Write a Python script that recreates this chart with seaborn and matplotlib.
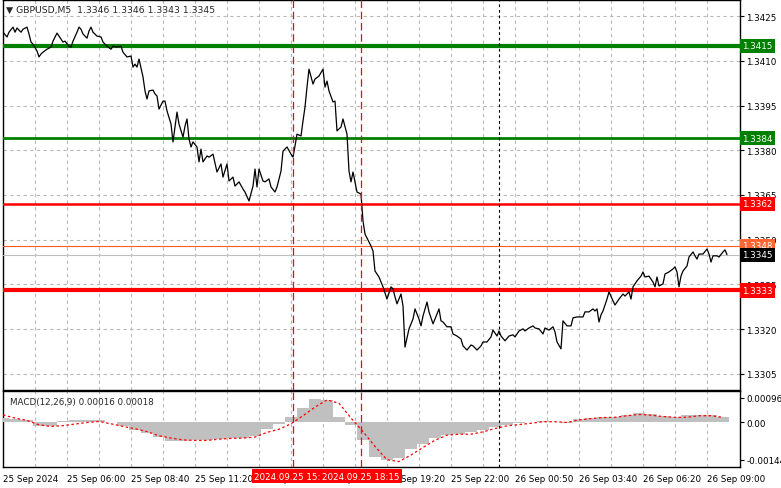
import seaborn as sns
import matplotlib.pyplot as plt
import matplotlib.transforms as mtransforms
import pandas as pd

# price (close) readings, x in M5 bars from the chart start
bars = [0, 2, 3, 5, 6, 7, 9, 10, 12, 13, 14, 15, 17, 18, 19, 20, 22, 24, 25, 27,
        29, 30, 31, 33, 34, 35, 37, 38, 39, 40, 42, 43, 44, 45, 47, 49, 50, 52, 54, 55,
        57, 59, 60, 62, 64, 65, 66, 67, 68, 70, 71, 72, 73, 75, 76, 77, 78, 80, 81, 82,
        84, 85, 87, 88, 90, 91, 92, 93, 94, 95, 97, 98, 99,
        100, 102, 103, 105, 107, 109, 110, 112, 113, 115, 116, 118, 120, 121, 123, 125, 126, 127, 128, 130,
        131, 133, 134, 136, 137, 139, 140, 142, 144, 145, 146, 147, 149, 150, 151, 152, 153, 155, 156, 158,
        160, 161, 162, 163, 165, 166, 167, 169, 170, 172, 173, 174, 175, 177, 179, 180, 181, 184, 185, 186,
        188, 190, 192, 194, 195, 196, 197, 199, 200, 201, 203, 205, 206, 208, 209, 210, 212, 213, 215, 216,
        218, 219, 220, 222, 224, 225, 227, 229, 230, 232, 234, 235, 237, 239, 240, 242, 244, 245, 247, 248,
        249, 251, 253, 255, 256, 258, 260, 261, 263, 265, 266, 268, 270, 271, 273, 275, 276, 277, 279, 280,
        282, 284, 285, 287, 290, 291, 293, 295, 296, 297, 298, 299, 300, 302, 303, 305, 306, 308, 310, 311,
        313, 314, 315, 317, 319, 320, 321, 323, 325, 326, 327, 328, 330, 331, 333, 335, 336, 337, 338, 339,
        340, 342, 343, 345, 346, 347, 348, 350, 352, 353, 354, 355, 357, 358, 360, 361, 362]
close = [1.34196, 1.34180, 1.34196, 1.34213, 1.34196, 1.34210, 1.34196, 1.34206, 1.34213, 1.34190,
         1.34163, 1.34156, 1.34133, 1.34113, 1.34123, 1.34129, 1.34139, 1.34146, 1.34166, 1.34193,
         1.34173, 1.34163, 1.34166, 1.34149, 1.34146, 1.34166, 1.34196, 1.34213, 1.34206, 1.34190,
         1.34176, 1.34200, 1.34213, 1.34196, 1.34183, 1.34180, 1.34163, 1.34149, 1.34139, 1.34149,
         1.34146, 1.34149, 1.34129, 1.34113, 1.34116, 1.34079, 1.34089, 1.34079, 1.34106, 1.34046,
         1.33999, 1.33972, 1.33999, 1.34002, 1.33989, 1.33982, 1.33938, 1.33965, 1.33965, 1.33932,
         1.33888, 1.33828, 1.33928, 1.33888, 1.33844, 1.33881, 1.33905, 1.33838, 1.33811, 1.33828,
         1.33811, 1.33761, 1.33804,
         1.33761, 1.33781, 1.33777, 1.33787, 1.33727, 1.33754, 1.33710, 1.33754, 1.33697, 1.33710,
         1.33680, 1.33694, 1.33670, 1.33660, 1.33630, 1.33680, 1.33737, 1.33677, 1.33737, 1.33697,
         1.33694, 1.33704, 1.33677, 1.33660, 1.33677, 1.33730, 1.33797, 1.33811, 1.33787, 1.33777,
         1.33814, 1.33854, 1.33848, 1.33898, 1.33945, 1.34012, 1.34072, 1.34022, 1.34039, 1.34049,
         1.34072, 1.34012, 1.34032, 1.33999, 1.33962, 1.33965, 1.33865, 1.33878, 1.33905, 1.33854,
         1.33730, 1.33694, 1.33727, 1.33660, 1.33653, 1.33563, 1.33519, 1.33479, 1.33462, 1.33395,
         1.33375, 1.33342, 1.33301, 1.33342, 1.33335, 1.33308, 1.33285, 1.33318, 1.33278, 1.33140,
         1.33201, 1.33234, 1.33268, 1.33234, 1.33211, 1.33244, 1.33291, 1.33258, 1.33218, 1.33234,
         1.33268, 1.33228, 1.33224, 1.33208, 1.33208, 1.33184, 1.33177, 1.33167, 1.33144, 1.33130,
         1.33147, 1.33144, 1.33130, 1.33144, 1.33157, 1.33157, 1.33174, 1.33197, 1.33177, 1.33194,
         1.33177, 1.33161, 1.33177, 1.33181, 1.33174, 1.33194, 1.33201, 1.33194, 1.33204, 1.33211,
         1.33204, 1.33201, 1.33184, 1.33204, 1.33197, 1.33208, 1.33191, 1.33157, 1.33134, 1.33228,
         1.33211, 1.33211, 1.33238, 1.33241, 1.33241, 1.33258, 1.33258, 1.33268, 1.33261, 1.33268,
         1.33224, 1.33248, 1.33261, 1.33301, 1.33325, 1.33295, 1.33281, 1.33301, 1.33318, 1.33311,
         1.33325, 1.33301, 1.33342, 1.33362, 1.33378, 1.33392, 1.33375, 1.33378, 1.33358, 1.33342,
         1.33375, 1.33345, 1.33352, 1.33385, 1.33392, 1.33402, 1.33409, 1.33392, 1.33342, 1.33378,
         1.33395, 1.33412, 1.33442, 1.33459, 1.33446, 1.33435, 1.33452, 1.33452, 1.33469, 1.33452,
         1.33425, 1.33446, 1.33446, 1.33442, 1.33459, 1.33466, 1.33450]

# MACD(12,26,9) read every 6 bars
macd_bars = list(range(0, 361, 6))
macd_hist = [0.00017, 0.00013, 0.00008, -0.00015, -0.00013, 0.00004, 0.00008, 0.0001, 0.00008, 0.0,
             -0.00015, -0.00028, -0.00041, -0.00056, -0.0007, -0.0007, -0.00069, -0.00067, -0.00064, -0.0006,
             -0.0006, -0.00051, -0.00026, -0.00005, 0.0002, 0.00055, 0.00091, 0.00087, 0.0002, -0.00009,
             -0.00067, -0.00131, -0.00144, -0.00138,
             -0.00102, -0.00083, -0.00061, -0.00049, -0.00045, -0.00038, -0.00028, -0.00018, -0.0001, -0.00003,
             0.00003, 0.00004, 0.0, -0.00003, 0.00013, 0.00018, 0.0002, 0.00023, 0.00028, 0.00036,
             0.00033, 0.00026, 0.00023, 0.00028, 0.00029, 0.00028, 0.00023]
macd_signal = [0.00029, 0.00017, 0.00008, -0.00009, -0.00015, -0.00012, -0.00006, 0.0, 0.00004, -0.00005,
               -0.00015, -0.00024, -0.00035, -0.00051, -0.0006, -0.00067, -0.00069, -0.00069, -0.00064, -0.00061,
               -0.0006, -0.00056, -0.00038, -0.00026, -0.00005, 0.00026, 0.00059, 0.00087, 0.00074, 0.00017,
               -0.00035, -0.00092, -0.00143, -0.0015,
               -0.00125, -0.00096, -0.00068, -0.00049, -0.00045, -0.00045, -0.00036, -0.00023, -0.00013, -0.00008,
               -0.00003, 0.00003, 0.00003, 0.0, 0.0001, 0.00015, 0.00019, 0.0002, 0.00026, 0.00031,
               0.00028, 0.00023, 0.0002, 0.0002, 0.00026, 0.00026, 0.0002]

# horizontal levels
green_levels = [1.3415, 1.3384]
red_levels = [1.3362, 1.3333]
ask_price = 1.3348
bid_price = 1.3345

# time axis
time_tick_bars = [0, 32, 64, 96, 128, 160, 192, 224, 256, 288, 320, 352]
time_tick_labels = ['25 Sep 2024', '25 Sep 06:00', '25 Sep 08:40', '25 Sep 11:20', '25 Sep 14:00',
                    '25 Sep 16:40', '25 Sep 19:20', '25 Sep 22:00', '26 Sep 00:50', '26 Sep 03:40',
                    '26 Sep 06:20', '26 Sep 09:00']
marker_bars = [145, 179]
marker_labels = ['2024.09.25 15:25', '2024.09.25 18:15']
day_sep_bar = 248
price_ticks = [1.3305, 1.3320, 1.3335, 1.3350, 1.3365, 1.3380, 1.3395, 1.3410, 1.3425]

sns.set_style("white")
plt.rcParams['font.family'] = ['DejaVu Sans']
FS = 6.3

df = pd.DataFrame({'bar': bars, 'close': close})
dm = pd.DataFrame({'bar': macd_bars, 'hist': macd_hist, 'signal': macd_signal})

W, H = 781, 489
fig = plt.figure(figsize=(W / 100, H / 100), dpi=100)
ax = fig.add_axes([3 / W, 1 - 391 / H, 737 / W, 390 / H])
ax2 = fig.add_axes([3 / W, 1 - 468 / H, 737 / W, 76 / H])

grid_kw = dict(color='#b8b8b8', linestyle=(0, (3, 3)), linewidth=0.8)

# ---- main price panel
sns.lineplot(data=df, x='bar', y='close', color='black', linewidth=0.9, ax=ax, zorder=5)
for lv in green_levels:
    ax.axhline(lv, color='#008000', linewidth=3.0 if lv == 1.3415 else 2.0, zorder=4)
for lv in red_levels:
    ax.axhline(lv, color='#ff0000', linewidth=1.8 if lv == 1.3362 else 3.0, zorder=4)
ax.axhline(ask_price, color='#ff5a1f', linewidth=0.8, zorder=4)
ax.axhline(bid_price, color='#c0c0c0', linewidth=0.8, zorder=4)

ax.set_ylim(1.32996, 1.34304)
ax.set_yticks(price_ticks)
ax.set_yticklabels(['%.4f' % p for p in price_ticks])

# ---- MACD panel
sns.barplot(data=dm, x='bar', y='hist', native_scale=True, width=1.0, color='#c0c0c0',
            linewidth=0, errorbar=None, ax=ax2, saturation=1, zorder=3)
sns.lineplot(data=dm, x='bar', y='signal', color='#ff0000', linewidth=0.9,
             linestyle=(0, (2, 2)), ax=ax2, zorder=4)
ax2.set_ylim(-0.00171, 0.00121)
ax2.set_yticks([-0.00144, 0.0, 0.00096])
ax2.set_yticklabels(['-0.00144', '0.00', '0.00096'])

grid_bars = list(range(0, 353, 16))
for a in (ax, ax2):
    a.set_xlim(0, 368.5)
    a.set_xlabel('')
    a.set_ylabel('')
    for s in a.spines.values():
        s.set_color('black')
        s.set_linewidth(1.0)
    a.yaxis.tick_right()
    a.tick_params(axis='y', direction='out', length=3, pad=1.5, labelsize=FS, colors='black')
    for gb in grid_bars[1:]:
        a.axvline(gb, zorder=1, **grid_kw)
    for mb in marker_bars:
        a.axvline(mb, color='#ff0000', linestyle=(0, (6, 3)), linewidth=0.9, zorder=6)
    a.axvline(day_sep_bar, color='black', linestyle=(0, (2.5, 2.5)), linewidth=0.8, zorder=6)

for p in price_ticks:
    ax.axhline(p, zorder=1, **grid_kw)

ax.set_xticks([])
ax2.set_xticks(time_tick_bars)
ax2.set_xticklabels(time_tick_labels)
ax2.tick_params(axis='x', direction='out', length=3, pad=2, labelsize=FS, colors='black')
for lbl in ax2.get_xticklabels():
    lbl.set_ha('left')

# level boxes at the right edge
ytr = mtransforms.blended_transform_factory(ax.transAxes, ax.transData)
boxes = [(1.3415, '#008000'), (1.3384, '#008000'), (1.3362, '#ff0000'), (1.3333, '#ff0000'),
         (ask_price, '#ff6633'), (bid_price, '#000000')]
for lv, col in boxes:
    ax.text(1.003, lv, '%.4f' % lv, transform=ytr, ha='left', va='center', fontsize=FS,
            color='white', zorder=10, clip_on=False,
            bbox=dict(facecolor=col, edgecolor='none', boxstyle='square,pad=0.3'))

# highlighted time labels below MACD panel
xtr = mtransforms.blended_transform_factory(ax2.transData, ax2.transAxes)
for mb, txt in zip(marker_bars, marker_labels):
    ax2.text(mb, -0.12, txt, transform=xtr, ha='center', va='center', fontsize=FS,
             color='white', zorder=10, clip_on=False,
             bbox=dict(facecolor='#ff0000', edgecolor='none', boxstyle='square,pad=0.25'))

fig.text(6 / W, 1 - 10 / H, '\u25bc GBPUSD,M5  1.3346 1.3346 1.3343 1.3345', fontsize=FS + 0.4,
         va='center', ha='left')
ax2.text(0.01, 0.86, 'MACD(12,26,9) 0.00016 0.00018', transform=ax2.transAxes, fontsize=FS,
         va='center', ha='left', zorder=10)

fig.savefig('out.png', dpi=100)
